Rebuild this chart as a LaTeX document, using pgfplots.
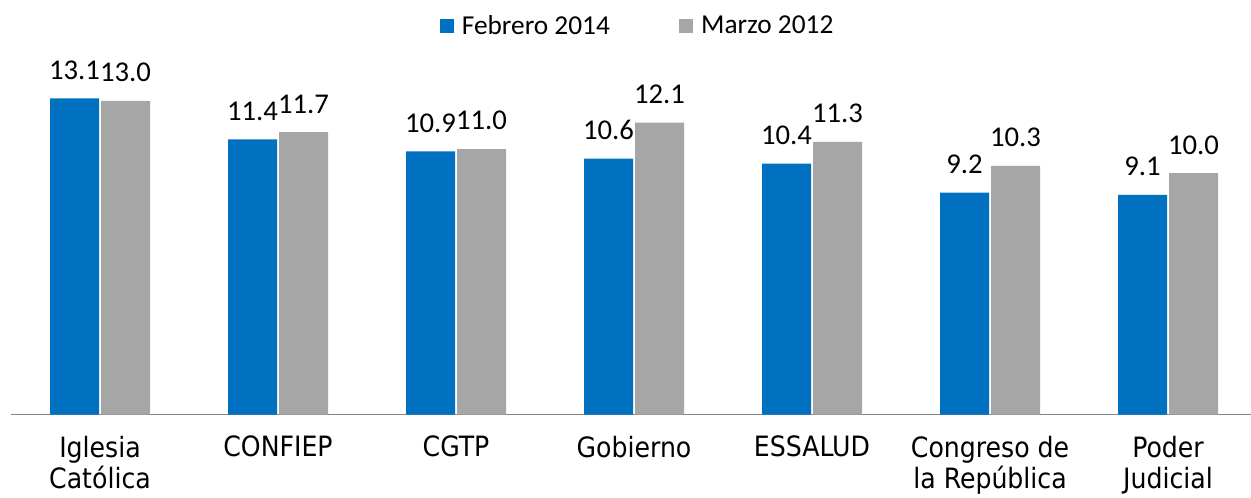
\documentclass[border=0pt]{standalone}
\usepackage{fontspec}
\setmainfont{Carlito}
\newfontfamily\labfont{DejaVu Sans Condensed}
\usepackage{pgfplots}
\pgfplotsset{compat=1.18}
\definecolor{cblue}{RGB}{0,112,192}
\definecolor{cgray}{RGB}{166,166,166}
\definecolor{caxis}{RGB}{134,134,134}

\begin{document}
\begin{tikzpicture}
\begin{axis}[
    scale only axis,
    width=930pt, height=271.5pt,
    xmin=-0.5, xmax=6.466,
    ymin=0, ymax=15,
    clip=false,
    ybar=1.5pt,
    bar width=36.75pt,
    axis x line*=bottom,
    axis y line=none,
    x axis line style={caxis, line width=0.9pt, -},
    xtick={0,...,6},
    xticklabels={Iglesia\\Católica, CONFIEP, CGTP, Gobierno, ESSALUD, Congreso de\\la República, Poder\\Judicial},
    major tick length=0pt,
    xticklabel style={font=\labfont\fontsize{21}{23.5}\selectfont, align=center,
        anchor=north, inner sep=0pt, yshift=-16pt},
    nodes near coords={\pgfmathprintnumber[fixed,zerofill,precision=1,assume math mode=true]{\pgfplotspointmeta}},
    nodes near coords style={font=\fontsize{21.5}{22}\selectfont, anchor=south, inner sep=0pt, yshift=14pt},
    legend columns=2,
    legend style={at={(0.5056,1)}, anchor=center, yshift=20pt, draw=none,
        font=\fontsize{20.5}{22}\selectfont,
        /tikz/every odd column/.append style={column sep=4pt},
        /tikz/every even column/.append style={column sep=50pt}},
    legend image code/.code={\fill[#1] (0pt,-5.25pt) rectangle (10.5pt,5.25pt);},
]
\addplot[fill=cblue, draw=none] coordinates {
    (0,13.1) (1,11.4) (2,10.9) (3,10.6) (4,10.4) (5,9.2) (6,9.1)
};
\addplot[fill=cgray, draw=none] coordinates {
    (0,13.0) (1,11.7) (2,11.0) (3,12.1) (4,11.3) (5,10.3) (6,10.0)
};
\legend{Febrero 2014, Marzo 2012}
\end{axis}
\pgfresetboundingbox
\path (-8.25pt,-62.5pt) rectangle (930pt,310.9pt);
\end{tikzpicture}
\end{document}
